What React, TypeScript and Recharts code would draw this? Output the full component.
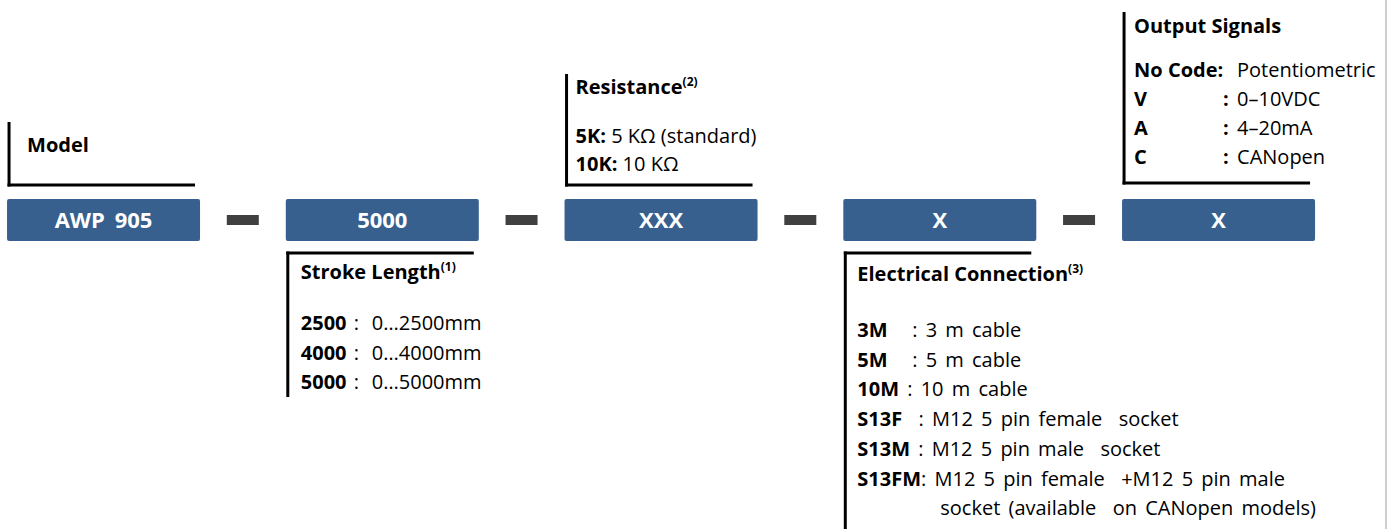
import { ComposedChart, Bar, Scatter, XAxis, YAxis } from "recharts";

// ordering code segments
const segmentCodes = ["AWP 905", "5000", "XXX", "X", "X"];
const segmentTitles = ["Model", "Stroke Length", "Resistance", "Electrical Connection", "Output Signals"];
const titleNotes = ["", "(1)", "(2)", "(3)", ""];

const strokeCodes = ["2500", "4000", "5000"];
const strokeRanges = ["0…2500mm", "0…4000mm", "0…5000mm"];

const resistanceCodes = ["5K:", "10K:"];
const resistanceValues = ["5 KΩ (standard)", "10 KΩ"];

const connectionCodes = ["3M", "5M", "10M", "S13F", "S13M", "S13FM", ""];
const connectionSeps = ["   : ", "   : ", " : ", "  : ", " : ", ": ", ""];
const connectionValues = [
  "3 m cable",
  "5 m cable",
  "10 m cable",
  "M12 5 pin female  socket",
  "M12 5 pin male  socket",
  "M12 5 pin female  +M12 5 pin male",
  "socket (available  on CANopen models)",
];

const outputCodes = ["No Code:", "V", "A", "C"];
const outputValues = ["Potentiometric", "0–10VDC", "4–20mA", "CANopen"];

type Line = { code: string; sep: string; value: string };

const blockLines: Line[][] = [
  [],
  strokeCodes.map((code, i) => ({ code, sep: "", value: strokeRanges[i] })),
  resistanceCodes.map((code, i) => ({ code, sep: " ", value: resistanceValues[i] })),
  connectionCodes.map((code, i) => ({ code, sep: connectionSeps[i], value: connectionValues[i] })),
  outputCodes.map((code, i) => ({ code, sep: "", value: outputValues[i] })),
];

const barData = segmentCodes.map((code, i) => ({ pos: i, level: 1, code, idx: i }));
const dashData = segmentCodes.slice(1).map((_, i) => ({ pos: i + 0.5, level: 0.5 }));

const W = 1396;
const H = 529;
const BOX = "#37608f";
const FONT = "'Open Sans', sans-serif";
const X_DOMAIN = [-0.371, 4.637];

// per-block layout (offsets in px)
const layout: any[] = [
  { side: "above", inset: 18, rise: 14, titleOnly: 33, topGap: 30 },
  { side: "below", inset: 13, titleGap: 26, firstGap: 77, lineH: 29.5, colon: 53, valueAt: 71, tail: 8 },
  { side: "above", inset: 9, rise: 14, lastGap: 14, lineH: 28, titleGap: 49, topGap: 20 },
  { side: "below", inset: 12, titleGap: 28, firstGap: 84, lineH: 29.7, indent: 83, toEnd: true, wordSpacing: 3 },
  { side: "above", inset: 10, rise: 16, lastGap: 19, lineH: 29, titleGap: 44, topGap: 21, colon: 89, valueAt: 103, boldColon: true },
];

const renderLine = (ln: Line, k: number, tx: number, y: number, L: any) => {
  if (L.colon !== undefined) {
    const hasColon = ln.code.endsWith(":");
    return (
      <g key={k}>
        <text x={tx} y={y} fontWeight={700}>{ln.code}</text>
        {!hasColon && (
          <text x={tx + L.colon} y={y} fontWeight={L.boldColon ? 700 : 400}>:</text>
        )}
        <text x={tx + L.valueAt} y={y}>{ln.value}</text>
      </g>
    );
  }
  const ws = L.wordSpacing || 0;
  if (!ln.code && L.indent) {
    return (
      <text key={k} x={tx + L.indent} y={y} style={{ whiteSpace: "pre", wordSpacing: ws }}>{ln.value}</text>
    );
  }
  return (
    <text key={k} x={tx} y={y} style={{ whiteSpace: "pre", wordSpacing: ws }}>
      <tspan fontWeight={700}>{ln.code}</tspan>
      <tspan>{ln.sep + ln.value}</tspan>
    </text>
  );
};

const Block = ({ i, left, right, top, bottom }: any) => {
  const L = layout[i];
  const lines = blockLines[i];
  const bx = left + 2;
  const tx = bx + L.inset;
  let base: number, titleY: number, lineYs: number[], vTop: number, vBottom: number;

  if (L.side === "above") {
    base = top - L.rise;
    if (lines.length === 0) {
      titleY = base - L.titleOnly;
      lineYs = [];
    } else {
      const last = base - L.lastGap;
      lineYs = lines.map((_, k) => last - (lines.length - 1 - k) * L.lineH);
      titleY = lineYs[0] - L.titleGap;
    }
    vTop = titleY - L.topGap;
    vBottom = base + 1.5;
  } else {
    base = bottom + 12;
    titleY = base + L.titleGap;
    lineYs = lines.map((_, k) => base + L.firstGap + k * L.lineH);
    vTop = base - 1.5;
    vBottom = L.toEnd ? H : lineYs[lineYs.length - 1] + L.tail;
  }

  return (
    <g fontFamily={FONT} fontSize={20} fill="#000">
      <line x1={bx} x2={bx} y1={vTop} y2={vBottom} stroke="#000" strokeWidth={3} />
      <line x1={bx - 1.5} x2={right - 5} y1={base} y2={base} stroke="#000" strokeWidth={3} />
      <text x={tx} y={titleY} fontWeight={700}>
        {segmentTitles[i]}
        {titleNotes[i] && (
          <tspan fontSize={12} dy={-8}>{titleNotes[i]}</tspan>
        )}
      </text>
      {lines.map((ln, k) => renderLine(ln, k, tx, lineYs[k], L))}
    </g>
  );
};

const SegmentShape = (props: any) => {
  const { x, y, width, height } = props;
  const i = props.payload?.idx ?? props.index;
  return (
    <g>
      <rect x={x} y={y} width={width} height={height} rx={2} fill={BOX} />
      <text
        x={x + width / 2}
        y={y + height / 2 + 8}
        textAnchor="middle"
        fill="#fff"
        fontFamily={FONT}
        fontSize={22}
        fontWeight={700}
        style={{ wordSpacing: 4 }}
      >
        {segmentCodes[i]}
      </text>
      <Block i={i} left={x} right={x + width} top={y} bottom={y + height} />
    </g>
  );
};

const DashShape = (props: any) => {
  const { cx, cy } = props;
  return <rect x={cx - 16} y={cy - 5} width={32} height={10} fill="#404040" />;
};

export default function App() {
  return (
    <div style={{ position: "absolute", left: 0, top: 0, width: W, height: H, background: "#fff" }}>
      <ComposedChart
        width={W}
        height={H}
        data={barData}
        margin={{ top: 199, bottom: 288, left: 0, right: 0 }}
      >
        <XAxis xAxisId="seg" type="number" dataKey="pos" domain={X_DOMAIN} hide />
        <XAxis xAxisId="dash" type="number" dataKey="pos" domain={X_DOMAIN} hide />
        <YAxis type="number" domain={[0, 1]} hide />
        <Bar xAxisId="seg" dataKey="level" barSize={193} shape={SegmentShape} isAnimationActive={false} />
        <Scatter xAxisId="dash" data={dashData} dataKey="level" shape={DashShape} isAnimationActive={false} />
      </ComposedChart>
      <div style={{ position: "absolute", left: 1385, top: 0, width: 2, height: H, background: "#cfcfcf" }} />
    </div>
  );
}
